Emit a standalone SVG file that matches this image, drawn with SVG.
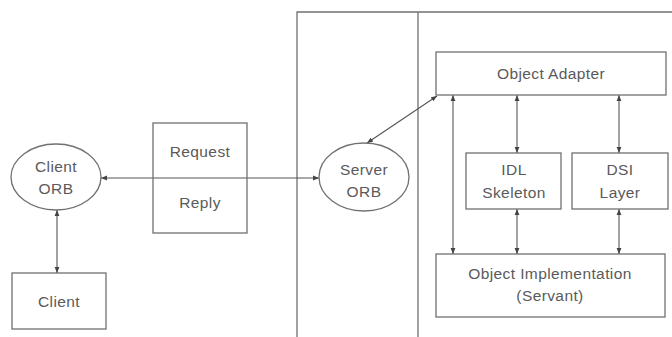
<svg xmlns="http://www.w3.org/2000/svg" width="672" height="337" viewBox="0 0 672 337">
  <style>
    .shape { fill: #ffffff; stroke: #707070; stroke-width: 1.3; }
    .part { fill: none; stroke: #707070; stroke-width: 1.3; }
    .conn { fill: none; stroke: #555555; stroke-width: 1.1; marker-start: url(#ah); marker-end: url(#ah); }
    text { font-family: "Liberation Sans", Arial, sans-serif; font-size: 15.5px; letter-spacing: 0.4px; fill: #5a5a5a; text-anchor: middle; }
  </style>
  <defs>
    <marker id="ah" viewBox="0 0 10 10" refX="10" refY="5" markerWidth="6" markerHeight="6" markerUnits="userSpaceOnUse" orient="auto-start-reverse">
      <path d="M0,1 L10,5 L0,9 Z" fill="#444444"/>
    </marker>
  </defs>
  <rect width="672" height="337" fill="#ffffff"/>

  <g id="partitions">
    <path class="part" d="M297,337 V12 H672 M418,12 V337"/>
  </g>

  <g id="connectors">
    <line class="conn" x1="101" y1="178" x2="319" y2="178"/>
    <line class="conn" x1="57" y1="210" x2="57" y2="273"/>
    <line class="conn" x1="367" y1="143" x2="437" y2="96"/>
    <line class="conn" x1="453" y1="95" x2="453" y2="254"/>
    <line class="conn" x1="517" y1="95" x2="517" y2="153"/>
    <line class="conn" x1="517" y1="209" x2="517" y2="254"/>
    <line class="conn" x1="619" y1="95" x2="619" y2="153"/>
    <line class="conn" x1="619" y1="209" x2="619" y2="254"/>
  </g>

  <g id="client-orb">
    <ellipse class="shape" cx="56" cy="177" rx="45" ry="33"/>
    <text x="56" y="172">Client</text>
    <text x="56" y="194">ORB</text>
  </g>

  <g id="client">
    <rect class="shape" x="12" y="273" width="94" height="56"/>
    <text x="59" y="307">Client</text>
  </g>

  <g id="request-reply">
    <rect x="153" y="123" width="94" height="110" fill="none" stroke="#707070" stroke-width="1.3"/>
    <text x="200" y="157">Request</text>
    <text x="200" y="208">Reply</text>
  </g>

  <g id="server-orb">
    <ellipse class="shape" cx="364" cy="177" rx="45" ry="34"/>
    <text x="364" y="175">Server</text>
    <text x="364" y="197">ORB</text>
  </g>

  <g id="object-adapter">
    <rect class="shape" x="436" y="52" width="230" height="43"/>
    <text x="551" y="79">Object Adapter</text>
  </g>

  <g id="idl-skeleton">
    <rect class="shape" x="466" y="153" width="95" height="56"/>
    <text x="514" y="175">IDL</text>
    <text x="514" y="198">Skeleton</text>
  </g>

  <g id="dsi-layer">
    <rect class="shape" x="572" y="153" width="96" height="56"/>
    <text x="620" y="175">DSI</text>
    <text x="620" y="198">Layer</text>
  </g>

  <g id="object-implementation">
    <rect class="shape" x="436" y="254" width="229" height="63"/>
    <text x="550" y="279">Object Implementation</text>
    <text x="550" y="301">(Servant)</text>
  </g>
</svg>
